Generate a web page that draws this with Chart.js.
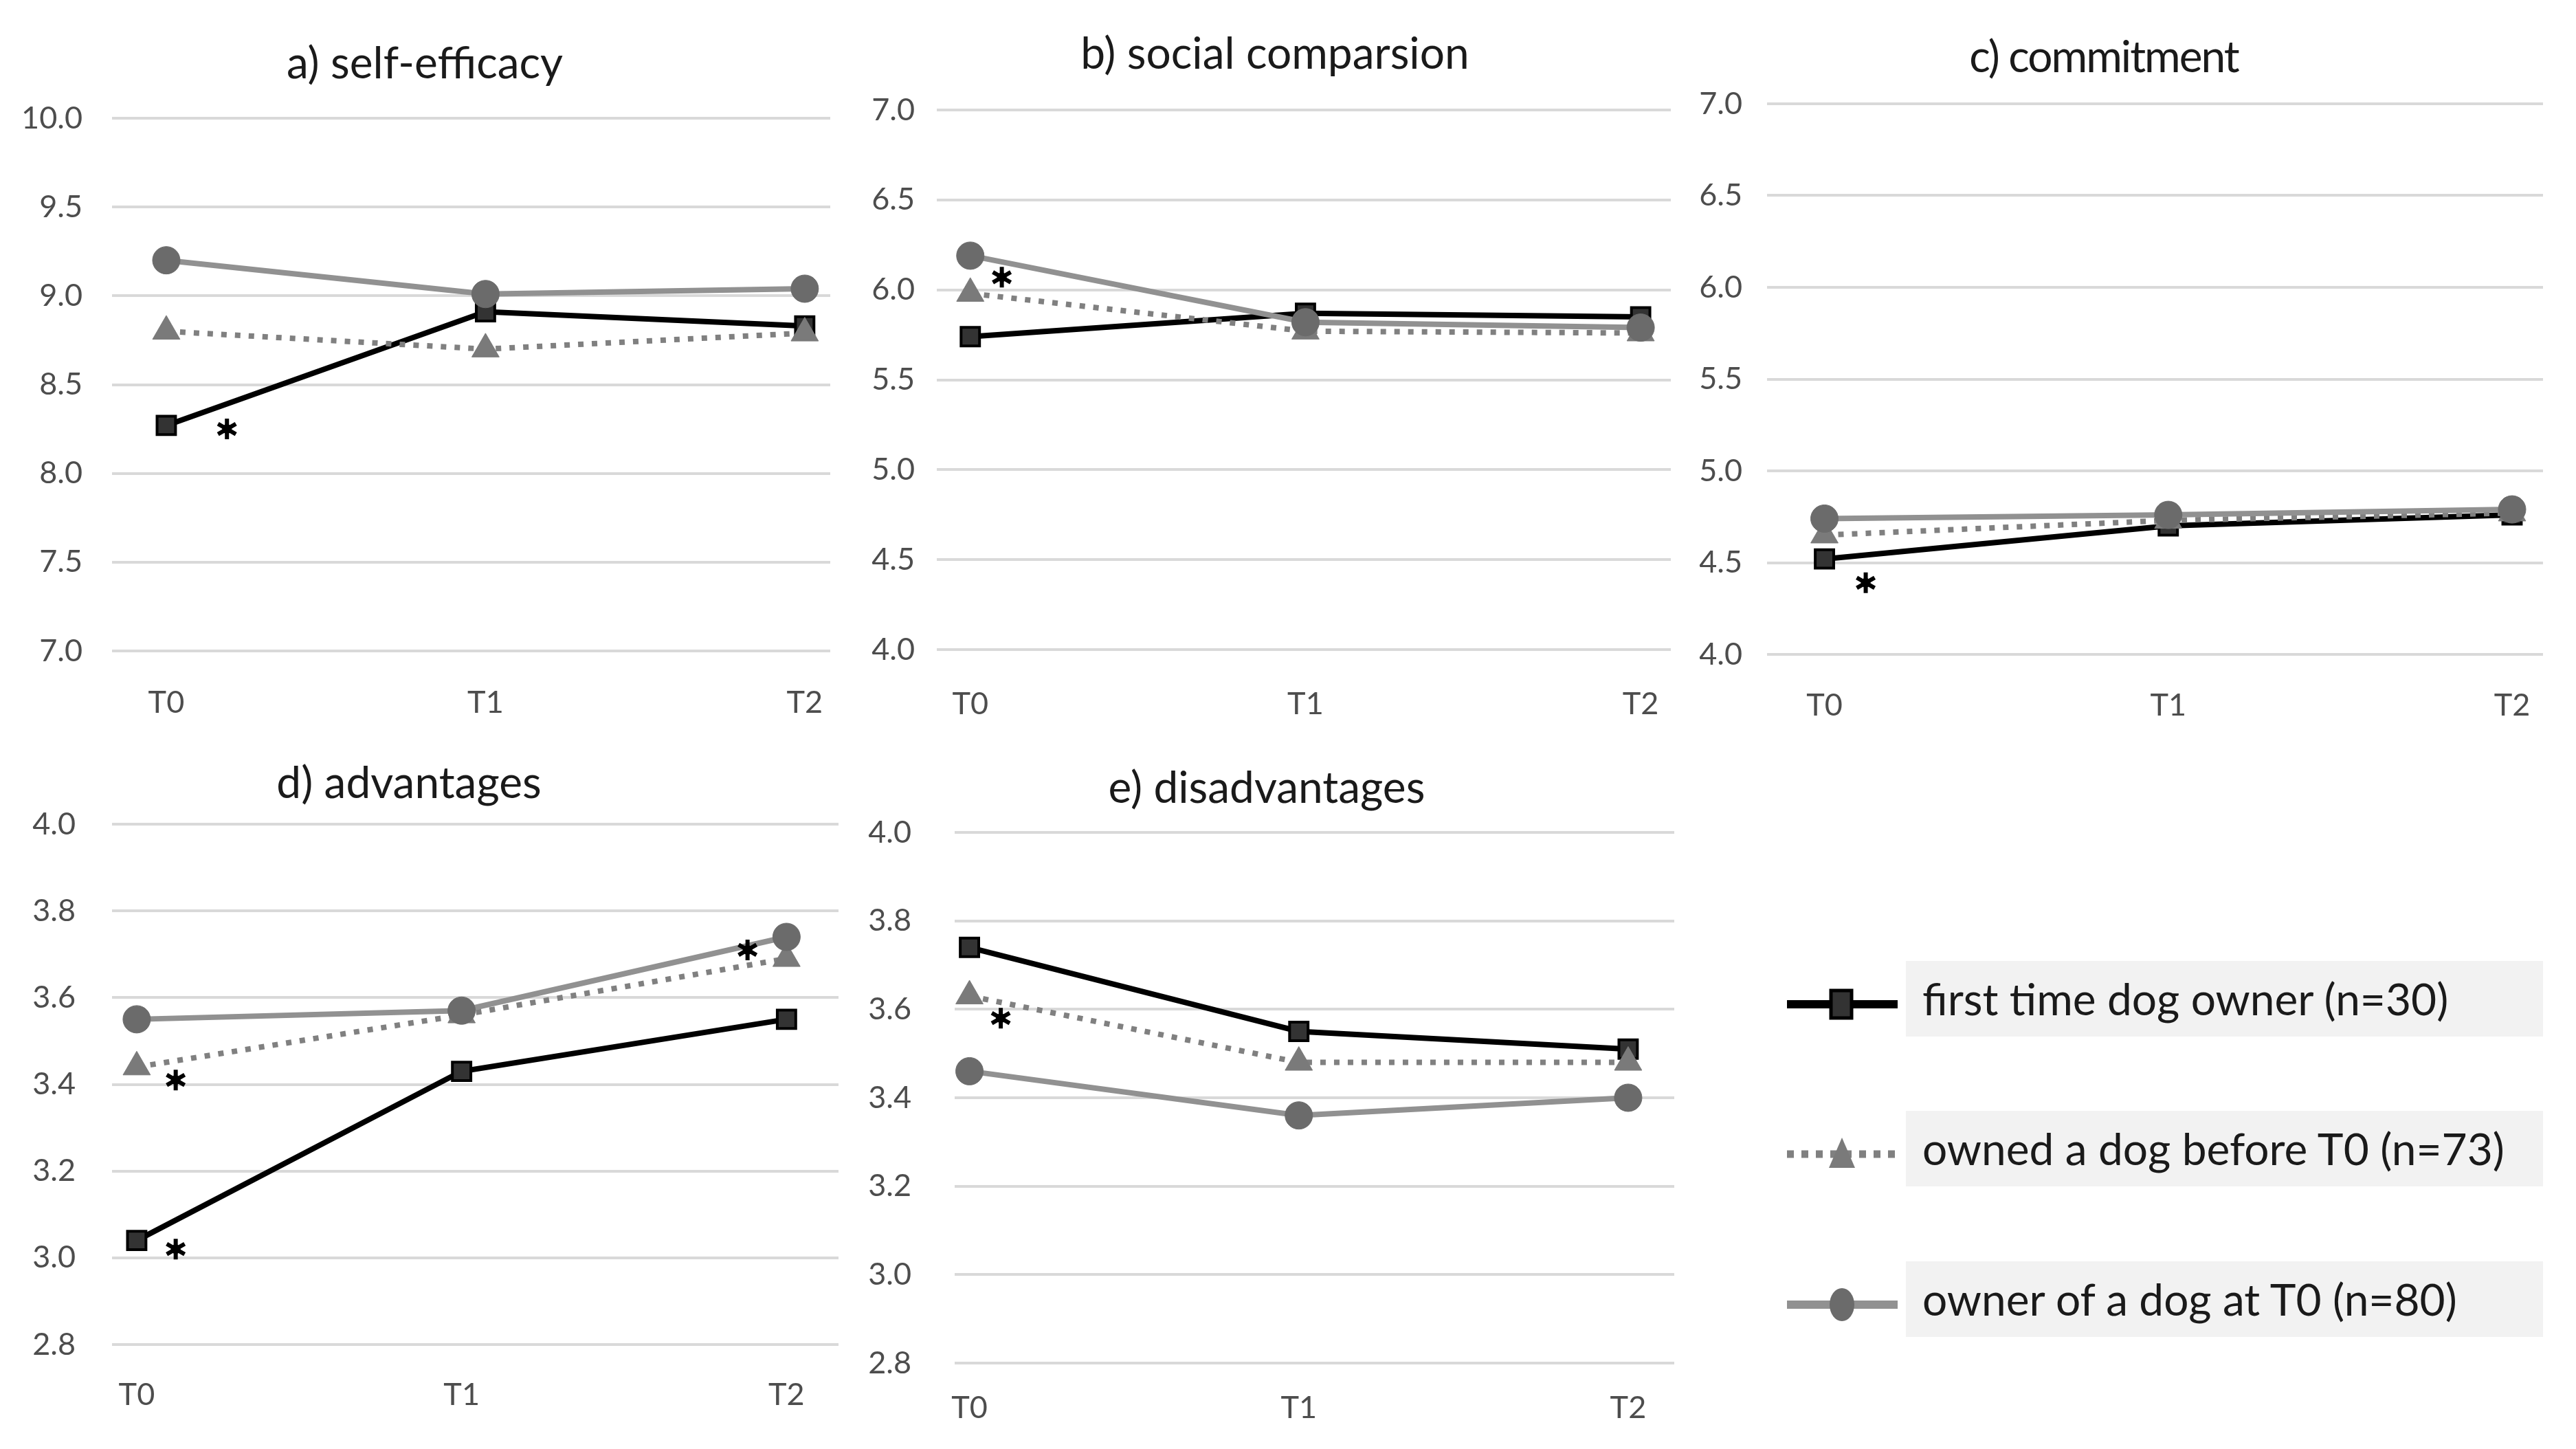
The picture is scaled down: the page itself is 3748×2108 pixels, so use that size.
<!DOCTYPE html>
<html lang="en">
<head>
<meta charset="UTF-8">
<title>Dog ownership panels</title>
<script src="https://cdn.jsdelivr.net/npm/chart.js"></script>
<style>
  body {
    margin: 0;
    width: 3748px;
    height: 2108px;
    position: relative;
    overflow: hidden;
    background: #fff;
    font-family: Lato, 'Open Sans', sans-serif;
  }
  .panel { position: absolute; }
  .title {
    position: absolute;
    font-size: 64px;
    color: #1a1a1a;
    white-space: nowrap;
    transform: translate(-50%, -50%);
  }
  .legend-box {
    position: absolute;
    left: 2773px;
    width: 927px;
    height: 110px;
    background: #f2f2f2;
    font-size: 64px;
    color: #1a1a1a;
    line-height: 110px;
    padding-left: 24px;
    box-sizing: border-box;
    white-space: nowrap;
  }
  .legend-swatch { position: absolute; left: 2600px; }
</style>
</head>
<body>
<script>
const categories = ['T0', 'T1', 'T2'];
const seriesNames = ['first time dog owner (n=30)', 'owned a dog before T0 (n=73)', 'owner of a dog at T0 (n=80)'];

// a) self-efficacy
const selfEfficacyFirst = [8.27, 8.91, 8.83];
const selfEfficacyBefore = [8.80, 8.70, 8.79];
const selfEfficacyOwner = [9.20, 9.01, 9.04];
const selfEfficacyTicks = [7.0, 7.5, 8.0, 8.5, 9.0, 9.5, 10.0];
const selfEfficacyStars = [[0.19, 8.25]];

// b) social comparsion
const socialFirst = [5.74, 5.87, 5.85];
const socialBefore = [5.98, 5.77, 5.76];
const socialOwner = [6.19, 5.82, 5.79];
const socialTicks = [4.0, 4.5, 5.0, 5.5, 6.0, 6.5, 7.0];
const socialStars = [[0.094, 6.07]];

// c) commitment
const commitmentFirst = [4.52, 4.70, 4.76];
const commitmentBefore = [4.65, 4.73, 4.77];
const commitmentOwner = [4.74, 4.76, 4.79];
const commitmentTicks = [4.0, 4.5, 5.0, 5.5, 6.0, 6.5, 7.0];
const commitmentStars = [[0.12, 4.39]];

// d) advantages
const advantagesFirst = [3.04, 3.43, 3.55];
const advantagesBefore = [3.44, 3.56, 3.69];
const advantagesOwner = [3.55, 3.57, 3.74];
const advantagesTicks = [2.8, 3.0, 3.2, 3.4, 3.6, 3.8, 4.0];
const advantagesStars = [[0.12, 3.41], [0.12, 3.02], [1.88, 3.71]];

// e) disadvantages
const disadvantagesFirst = [3.74, 3.55, 3.51];
const disadvantagesBefore = [3.63, 3.48, 3.48];
const disadvantagesOwner = [3.46, 3.36, 3.40];
const disadvantagesTicks = [2.8, 3.0, 3.2, 3.4, 3.6, 3.8, 4.0];
const disadvantagesStars = [[0.095, 3.58]];

const panels = [
    { title: 'a) self-efficacy', first: selfEfficacyFirst, before: selfEfficacyBefore, owner: selfEfficacyOwner,
      ticks: selfEfficacyTicks, stars: selfEfficacyStars, titleSpacing: 0,
      box: { left: 163, right: 1208, top: 172, bottom: 947 }, xRange: [-0.17, 2.08], yPad: 43, xPad: 40, titleAt: [618, 89] },
    { title: 'b) social comparsion', first: socialFirst, before: socialBefore, owner: socialOwner,
      ticks: socialTicks, stars: socialStars, titleSpacing: 0,
      box: { left: 1363, right: 2431, top: 160, bottom: 945 }, xRange: [-0.10, 2.09], yPad: 32, xPad: 44, titleAt: [1855, 75] },
    { title: 'c) commitment', first: commitmentFirst, before: commitmentBefore, owner: commitmentOwner,
      ticks: commitmentTicks, stars: commitmentStars, titleSpacing: -2,
      box: { left: 2571, right: 3700, top: 151, bottom: 952 }, xRange: [-0.167, 2.09], yPad: 36, xPad: 39, titleAt: [3061, 80] },
    { title: 'd) advantages', first: advantagesFirst, before: advantagesBefore, owner: advantagesOwner,
      ticks: advantagesTicks, stars: advantagesStars, titleSpacing: 0,
      box: { left: 163, right: 1220, top: 1199, bottom: 1956 }, xRange: [-0.076, 2.16], yPad: 53, xPad: 38, titleAt: [595, 1136] },
    { title: 'e) disadvantages', first: disadvantagesFirst, before: disadvantagesBefore, owner: disadvantagesOwner,
      ticks: disadvantagesTicks, stars: disadvantagesStars, titleSpacing: 0,
      box: { left: 1389, right: 2436, top: 1211, bottom: 1983 }, xRange: [-0.045, 2.14], yPad: 63, xPad: 30, titleAt: [1843, 1143] }
];

const tickFont = { family: 'Lato', size: 45 };
const tickColor = '#4d4d4d';

// six-spoke asterisks marking significant differences, placed in data space
const starPlugin = {
    id: 'stars',
    afterDatasetsDraw(chart, args, opts) {
        const { ctx, scales: { x, y } } = chart;
        ctx.save();
        ctx.strokeStyle = '#000';
        ctx.fillStyle = '#000';
        ctx.lineWidth = 6;
        ctx.lineCap = 'butt';
        const r = 15;
        (opts.points || []).forEach(([i, v]) => {
            const cx = x.getPixelForValue(i);
            const cy = y.getPixelForValue(v);
            ctx.beginPath();
            [90, 30, 150].forEach(deg => {
                const a = deg * Math.PI / 180;
                ctx.moveTo(cx - Math.cos(a) * r, cy - Math.sin(a) * r);
                ctx.lineTo(cx + Math.cos(a) * r, cy + Math.sin(a) * r);
            });
            ctx.stroke();
            ctx.beginPath();
            ctx.arc(cx, cy, 7, 0, Math.PI * 2);
            ctx.fill();
        });
        ctx.restore();
    }
};

const W = 160, PT = 100, PR = 100, XH = 130;

function toXY(values) {
    return values.map((v, i) => ({ x: i, y: v }));
}

panels.forEach(p => {
    const t = document.createElement('div');
    t.className = 'title';
    t.textContent = p.title;
    t.style.left = p.titleAt[0] + 'px';
    t.style.top = p.titleAt[1] + 'px';
    t.style.letterSpacing = p.titleSpacing + 'px';
    document.body.appendChild(t);

    const wrap = document.createElement('div');
    wrap.className = 'panel';
    wrap.style.left = (p.box.left - W) + 'px';
    wrap.style.top = (p.box.top - PT) + 'px';
    wrap.style.width = (W + p.box.right - p.box.left + PR) + 'px';
    wrap.style.height = (PT + p.box.bottom - p.box.top + XH) + 'px';
    const canvas = document.createElement('canvas');
    wrap.appendChild(canvas);
    document.body.appendChild(wrap);

    new Chart(canvas, {
        type: 'line',
        data: {
            datasets: [
                {
                    label: seriesNames[0], data: toXY(p.first), order: 2,
                    borderColor: '#000', borderWidth: 8,
                    pointStyle: 'rect', pointRadius: 19,
                    pointBackgroundColor: '#333', pointBorderColor: '#000', pointBorderWidth: 4
                },
                {
                    label: seriesNames[1], data: toXY(p.before), order: 1,
                    borderColor: '#808080', borderWidth: 8, borderDash: [8, 12],
                    pointStyle: 'triangle', pointRadius: 23,
                    pointBackgroundColor: '#7a7a7a', pointBorderColor: '#7a7a7a', pointBorderWidth: 1
                },
                {
                    label: seriesNames[2], data: toXY(p.owner), order: 0,
                    borderColor: '#919191', borderWidth: 8,
                    pointStyle: 'circle', pointRadius: 20,
                    pointBackgroundColor: '#6b6b6b', pointBorderColor: '#6b6b6b', pointBorderWidth: 1
                }
            ]
        },
        options: {
            responsive: true,
            maintainAspectRatio: false,
            animation: false,
            layout: { padding: { top: PT, right: PR, left: 0, bottom: 0 } },
            plugins: {
                legend: { display: false },
                tooltip: { enabled: false },
                stars: { points: p.stars }
            },
            scales: {
                x: {
                    type: 'linear',
                    min: p.xRange[0],
                    max: p.xRange[1],
                    grid: { display: false },
                    border: { display: false },
                    afterBuildTicks: ax => { ax.ticks = categories.map((c, i) => ({ value: i })); },
                    afterFit: ax => { ax.height = XH; },
                    ticks: { padding: p.xPad, font: tickFont, color: tickColor, callback: v => categories[v] }
                },
                y: {
                    min: p.ticks[0],
                    max: p.ticks[p.ticks.length - 1],
                    afterBuildTicks: ax => { ax.ticks = p.ticks.map(v => ({ value: v })); },
                    afterFit: ax => { ax.width = W; },
                    grid: { color: '#d9d9d9', lineWidth: 4, drawTicks: false },
                    border: { display: false },
                    ticks: { padding: p.yPad, font: tickFont, color: tickColor, callback: v => v.toFixed(1) }
                }
            }
        },
        plugins: [starPlugin]
    });
});

// legend on the lower right
const legendTops = [1398, 1616, 1835];
const swatches = [
    '<line x1="0" y1="30" x2="161" y2="30" stroke="#000" stroke-width="12"/>' +
    '<rect x="64" y="10" width="30" height="40" fill="#333" stroke="#000" stroke-width="5"/>',
    '<line x1="0" y1="30" x2="161" y2="30" stroke="#808080" stroke-width="11" stroke-dasharray="10 11"/>' +
    '<polygon points="80,6 99,50 61,50" fill="#7a7a7a"/>',
    '<line x1="0" y1="30" x2="161" y2="30" stroke="#919191" stroke-width="12"/>' +
    '<ellipse cx="80" cy="30" rx="18" ry="24" fill="#6b6b6b"/>'
];
seriesNames.forEach((name, i) => {
    const box = document.createElement('div');
    box.className = 'legend-box';
    box.style.top = legendTops[i] + 'px';
    box.textContent = name;
    document.body.appendChild(box);

    const sw = document.createElement('div');
    sw.className = 'legend-swatch';
    sw.style.top = (legendTops[i] + 55 + 8 - 30) + 'px';
    sw.innerHTML = '<svg width="161" height="60" xmlns="http://www.w3.org/2000/svg">' + swatches[i] + '</svg>';
    document.body.appendChild(sw);
});
</script>
</body>
</html>
